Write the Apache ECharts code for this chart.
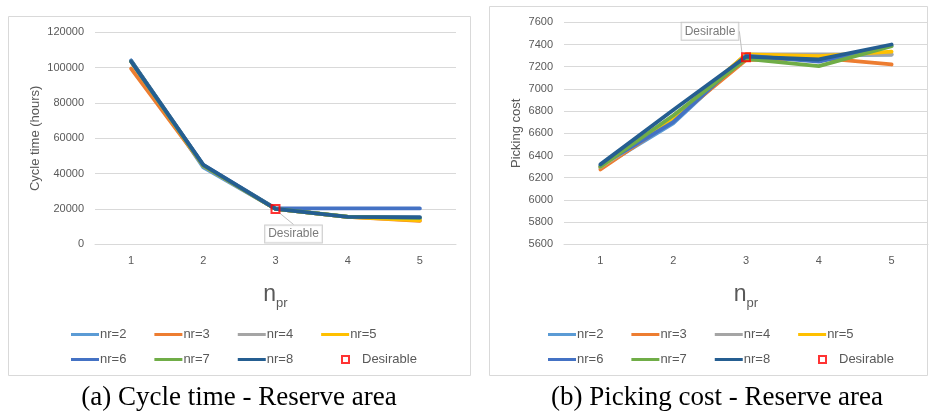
<!DOCTYPE html>
<html>
<head>
<meta charset="utf-8">
<script src="https://cdn.jsdelivr.net/npm/echarts@6/dist/echarts.min.js"></script>
<style>html,body{margin:0;padding:0;background:#fff}#c{width:933px;height:414px}</style>
</head>
<body>
<div id="c"></div>
<script>
// ---------- data ----------
const categories = ['1', '2', '3', '4', '5'];
const seriesNames = ['nr=2', 'nr=3', 'nr=4', 'nr=5', 'nr=6', 'nr=7', 'nr=8'];
const seriesColors = ['#5B9BD5', '#ED7D31', '#A5A5A5', '#FFC000', '#4472C4', '#70AD47', '#255E91'];

// (a) Cycle time (hours)
const cycle_nr2 = [104000, 43500, 20000, 15500, 15000];
const cycle_nr3 = [99500, 44500, 20000, 15500, 13300];
const cycle_nr4 = [103500, 44500, 20000, 15500, 14500];
const cycle_nr5 = [103500, 44500, 20000, 15500, 13500];
const cycle_nr6 = [104000, 45000, 20300, 20300, 20300];
const cycle_nr7 = [103500, 44500, 20000, 15600, 15000];
const cycle_nr8 = [103500, 45000, 20000, 15500, 15300];
const cycleDesirable = [null, null, 20000, null, null];

// (b) Picking cost
const cost_nr2 = [6290, 6690, 7300, 7300, 7310];
const cost_nr3 = [6275, 6720, 7260, 7280, 7220];
const cost_nr4 = [6295, 6720, 7310, 7310, 7310];
const cost_nr5 = [6300, 6740, 7310, 7295, 7335];
const cost_nr6 = [6310, 6700, 7300, 7245, 7390];
const cost_nr7 = [6300, 6760, 7270, 7205, 7385];
const cost_nr8 = [6320, 6810, 7290, 7265, 7400];
const costDesirable = [null, null, 7285, null, null];

const cycleSeries = [cycle_nr2, cycle_nr3, cycle_nr4, cycle_nr5, cycle_nr6, cycle_nr7, cycle_nr8];
const costSeries = [cost_nr2, cost_nr3, cost_nr4, cost_nr5, cost_nr6, cost_nr7, cost_nr8];

// ---------- chart ----------
const txt = '#595959';
const grid = '#d9d9d9';
const sans = 'Liberation Sans, Arial, sans-serif';

function xAxisOf(gi) {
  return {
    type: 'category', gridIndex: gi, data: categories, boundaryGap: true,
    axisLine: { lineStyle: { color: grid } }, axisTick: { show: false },
    axisLabel: { color: txt, fontSize: 11, fontFamily: sans, margin: 11 },
    name: '{n|n}{s|pr}', nameLocation: 'middle', nameGap: 36,
    nameTextStyle: {
      rich: {
        n: { fontSize: 23, color: txt, fontFamily: sans, lineHeight: 26, verticalAlign: 'bottom' },
        s: { fontSize: 13, color: txt, fontFamily: sans, lineHeight: 14, verticalAlign: 'bottom', padding: [0, 0, -4, 0] }
      }
    }
  };
}
function yAxisOf(gi, min, max, interval, name, gap) {
  return {
    type: 'value', gridIndex: gi, min: min, max: max, interval: interval,
    axisLine: { show: false }, axisTick: { show: false },
    splitLine: { lineStyle: { color: grid, width: 1 } },
    axisLabel: { color: txt, fontSize: 11, fontFamily: sans, margin: 11, formatter: v => String(v) },
    name: name, nameLocation: 'middle', nameGap: gap, nameRotate: 90,
    nameTextStyle: { color: txt, fontSize: 13, fontFamily: sans }
  };
}

const series = [];
function addLines(dataList, gi) {
  dataList.forEach((d, i) => {
    series.push({
      type: 'line', name: seriesNames[i], xAxisIndex: gi, yAxisIndex: gi,
      data: d, showSymbol: false, symbol: 'none',
      lineStyle: { color: seriesColors[i], width: 3.8, join: 'round', cap: 'round' },
      itemStyle: { color: seriesColors[i] },
      z: 2 + i, animation: false
    });
  });
}
addLines(cycleSeries, 0);
addLines(costSeries, 1);

function desirable(gi, data, dx, dy) {
  return {
    type: 'scatter', name: 'Desirable', xAxisIndex: gi, yAxisIndex: gi,
    data: data, symbol: 'rect', symbolSize: 8, z: 20, animation: false,
    itemStyle: { color: 'rgba(0,0,0,0)', borderColor: '#ff0000', borderWidth: 2 },
    label: {
      show: true, formatter: 'Desirable', position: 'inside',
      color: txt, fontSize: 12, fontFamily: sans,
      backgroundColor: '#fff', borderColor: '#bfbfbf', borderWidth: 1, padding: [3, 3, 2, 3]
    },
    labelLayout: { dx: dx, dy: dy },
    labelLine: { show: true, lineStyle: { color: '#bfbfbf', width: 1 } }
  };
}
series.push(desirable(0, cycleDesirable, 18, 25));
series.push(desirable(1, costDesirable, -36, -26));

function legendsAt(left) {
  const common = {
    orient: 'horizontal', itemGap: 28, itemWidth: 28, itemHeight: 3, icon: 'rect',
    textStyle: { color: txt, fontSize: 13, fontFamily: sans, padding: [0, 0, 0, -4] },
    selectedMode: false
  };
  return [
    Object.assign({}, common, { left: left, top: 323, data: ['nr=2', 'nr=3', 'nr=4', 'nr=5'] }),
    Object.assign({}, common, { left: left, top: 348, data: ['nr=6', 'nr=7', 'nr=8'] }),
    {
      left: left + 270, top: 348, data: ['Desirable'], icon: 'rect',
      itemWidth: 7, itemHeight: 7, selectedMode: false,
      textStyle: { color: txt, fontSize: 13, fontFamily: sans, padding: [0, 0, 0, 8] }
    }
  ];
}

const capFont = '27px "Liberation Serif", "Times New Roman", serif';
const option = {
  animation: false,
  backgroundColor: '#fff',
  grid: [
    { left: 95, width: 361, top: 32.3, height: 212 },
    { left: 564, width: 364, top: 22.3, height: 222 }
  ],
  xAxis: [xAxisOf(0), xAxisOf(1)],
  yAxis: [
    yAxisOf(0, 0, 120000, 20000, 'Cycle time (hours)', 53),
    yAxisOf(1, 5600, 7600, 200, 'Picking cost', 41)
  ],
  legend: legendsAt(66).concat(legendsAt(543)),
  graphic: [
    { type: 'rect', shape: { x: 8.5, y: 16.5, width: 462, height: 359 }, style: { fill: 'none', stroke: grid, lineWidth: 1 }, z: -1, silent: true },
    { type: 'rect', shape: { x: 489.5, y: 6.5, width: 438, height: 369 }, style: { fill: 'none', stroke: grid, lineWidth: 1 }, z: -1, silent: true },
    { type: 'text', position: [239, 398], style: { text: '(a) Cycle time - Reserve area', font: capFont, fill: '#000', textAlign: 'center', textVerticalAlign: 'middle' }, silent: true },
    { type: 'text', position: [717, 398], style: { text: '(b) Picking cost - Reserve area', font: capFont, fill: '#000', textAlign: 'center', textVerticalAlign: 'middle' }, silent: true }
  ],
  series: series
};

const chart = echarts.init(document.getElementById('c'), null, { renderer: 'canvas' });
chart.setOption(option);
</script>
</body>
</html>
